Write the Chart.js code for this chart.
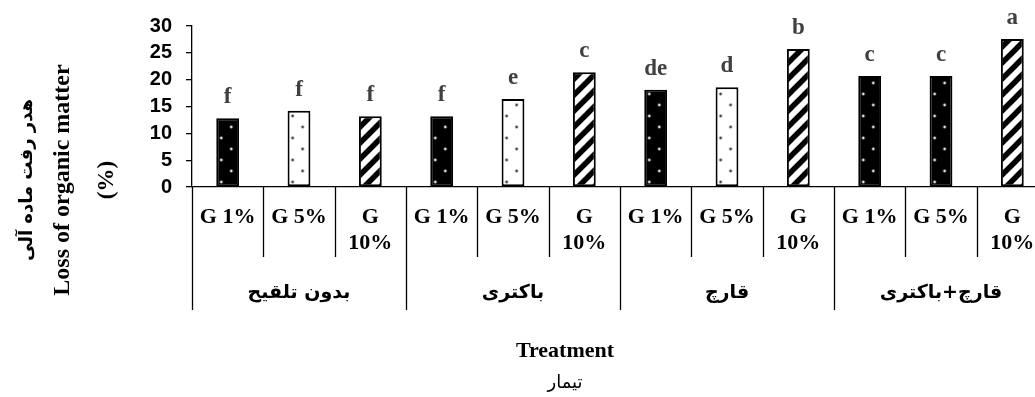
<!DOCTYPE html>
<html>
<head>
<meta charset="utf-8">
<script src="https://cdn.jsdelivr.net/npm/chart.js@4.4.1/dist/chart.umd.min.js"></script>
<style>
  html, body { margin: 0; padding: 0; background: #fff; overflow: hidden; width: 1035px; height: 397px; }
  #wrap { position: relative; width: 1048px; height: 397px; }
</style>
</head>
<body>
<div id="wrap"><canvas id="chLoss"></canvas></div>
<script>
/* ── dati ── */
const groups = ['بدون تلقیح', 'باکتری', 'قارچ', 'قارچ+باکتری'];
const doses = [['G 1%'], ['G 5%'], ['G', '10%']];
const lossValues = [12.8, 14.2, 13.2, 13.2, 16.4, 21.4, 18.1, 18.6, 25.7, 20.7, 20.7, 27.6];
const letters = ['f', 'f', 'f', 'f', 'e', 'c', 'de', 'd', 'b', 'c', 'c', 'a'];
const fillKinds = ['dotDark', 'dotLight', 'stripe', 'dotDark', 'dotLight', 'stripe',
                   'dotDark', 'dotLight', 'stripe', 'dotDark', 'dotDark', 'stripe'];
const yTicks = [0, 5, 10, 15, 20, 25, 30];
const yTitle = ['هدر رفت ماده آلی', 'Loss of organic matter', '(%)'];
const xTitle = ['Treatment', 'تیمار'];

const labels = [];
groups.forEach(() => doses.forEach(d => labels.push(d)));

/* pattern per barra: una tela piccola ripetuta */
function makeTile(kind) {
  const c = document.createElement('canvas');
  const x = c.getContext('2d');
  if (kind === 'stripe') {
    const s = 16;
    c.width = s; c.height = s;
    x.fillStyle = '#fff'; x.fillRect(0, 0, s, s);
    x.strokeStyle = '#000'; x.lineWidth = 5.5;
    x.beginPath();
    x.moveTo(-4, s + 4); x.lineTo(s + 4, -4);
    x.moveTo(-4, 4); x.lineTo(4, -4);
    x.moveTo(s - 4, s + 4); x.lineTo(s + 4, s - 4);
    x.stroke();
  } else {
    c.width = 20; c.height = 22;
    x.fillStyle = kind === 'dotDark' ? '#000' : '#fff';
    x.fillRect(0, 0, 20, 22);
    x.fillStyle = kind === 'dotDark' ? '#e0e0e0' : '#444';
    x.beginPath(); x.arc(5, 6, 1.4, 0, Math.PI * 2); x.fill();
    x.beginPath(); x.arc(15, 17, 1.4, 0, Math.PI * 2); x.fill();
  }
  return c;
}
const ctxMain = document.getElementById('chLoss').getContext('2d');
const patterns = fillKinds.map(k => ctxMain.createPattern(makeTile(k), 'repeat'));

const SERIF = '"Liberation Serif", "Times New Roman", serif';
const FA = '"DejaVu Sans", sans-serif';

const decorPlugin = {
  id: 'decor',
  beforeDatasetsDraw(chart) {
    // allinea i pattern al bordo sinistro di ogni barra
    const meta = chart.getDatasetMeta(0);
    meta.data.forEach((bar, i) => {
      if (patterns[i].setTransform) {
        patterns[i].setTransform(new DOMMatrix().translate(bar.x - bar.width / 2, 0));
      }
    });
  },
  afterDraw(chart) {
    const c = chart.ctx;
    const xs = chart.scales.x;
    const area = chart.chartArea;
    const cw = (area.right - area.left) / labels.length;
    c.save();
    c.strokeStyle = '#000';
    c.lineWidth = 1.3;
    for (let i = 0; i <= labels.length; i++) {
      const px = Math.round(area.left + i * cw) + 0.5;
      c.beginPath();
      c.moveTo(px, area.bottom);
      c.lineTo(px, i % 3 === 0 ? 310 : 257);
      c.stroke();
    }

    // etichette di primo livello
    c.fillStyle = '#000';
    c.textAlign = 'center';
    c.textBaseline = 'middle';
    c.font = 'bold 22px ' + SERIF;
    labels.forEach((lines, i) => {
      const cx = xs.getPixelForValue(i);
      lines.forEach((t, j) => c.fillText(t, cx, 217 + j * 26));
    });

    // gruppi
    c.font = 'bold 19px ' + FA;
    groups.forEach((g, gi) => {
      const cx = area.left + (gi * 3 + 1.5) * cw;
      c.fillText(g, cx, 293);
    });

    // lettere sopra le barre
    const meta = chart.getDatasetMeta(0);
    c.fillStyle = '#404040';
    c.textBaseline = 'alphabetic';
    c.font = 'bold 23px ' + SERIF;
    meta.data.forEach((bar, i) => c.fillText(letters[i], bar.x, bar.y - 15));

    // titolo asse x
    c.fillStyle = '#000';
    c.textBaseline = 'middle';
    c.font = 'bold 22px ' + SERIF;
    c.fillText(xTitle[0], 565, 351);
    c.font = '18px ' + FA;
    c.fillText(xTitle[1], 565, 383);

    // titolo asse y (ruotato)
    const yt = [[yTitle[0], 27, 'bold 18px ' + FA], [yTitle[1], 63, 'bold 24px ' + SERIF], [yTitle[2], 107, 'bold 23px ' + SERIF]];
    yt.forEach(([t, x, f]) => {
      c.save();
      c.translate(x, 180);
      c.rotate(-Math.PI / 2);
      c.font = f;
      c.fillText(t, 0, 0);
      c.restore();
    });
    c.restore();
  }
};

new Chart(ctxMain, {
  type: 'bar',
  data: {
    labels: labels.map(l => l.join(' ')),
    datasets: [{
      data: lossValues,
      backgroundColor: patterns,
      borderColor: '#000',
      borderWidth: 2,
      borderSkipped: false,
      barPercentage: 0.32,
      categoryPercentage: 1
    }]
  },
  options: {
    responsive: true, maintainAspectRatio: false, animation: false,
    layout: { padding: { top: 26, left: 0, right: 0, bottom: 0 } },
    plugins: { legend: { display: false }, tooltip: { enabled: false } },
    scales: {
      x: {
        offset: true,
        ticks: { display: false },
        grid: { display: false },
        border: { display: true, color: '#000', width: 1.3 },
        afterFit: s => { s.height = 210; }
      },
      y: {
        min: 0, max: 30,
        afterBuildTicks: s => { s.ticks = yTicks.map(v => ({ value: v })); },
        ticks: { color: '#000', padding: 14, autoSkip: false, font: { family: '"Liberation Sans", Arial, sans-serif', weight: 'bold', size: 20 } },
        grid: { drawOnChartArea: false, drawTicks: true, tickLength: 6, color: '#000', lineWidth: 1.3 },
        border: { display: true, color: '#000', width: 1.3 },
        afterFit: s => { s.width = 192; }
      }
    }
  },
  plugins: [decorPlugin]
});
</script>
</body>
</html>
